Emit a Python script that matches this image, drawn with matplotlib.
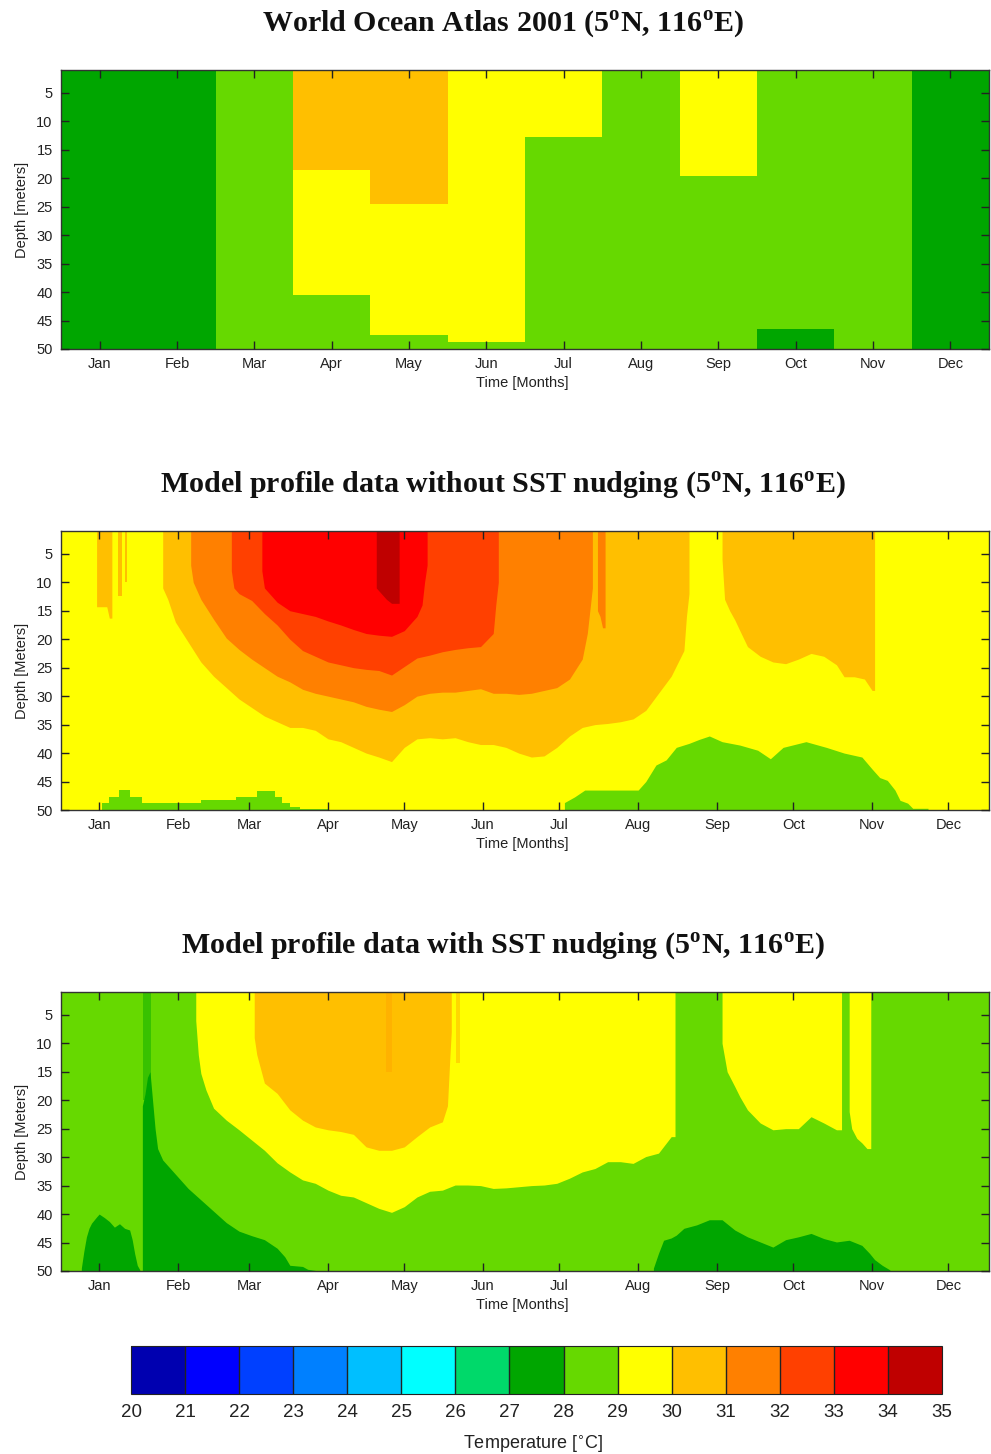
import numpy as np
import matplotlib
matplotlib.use("Agg")
import matplotlib.pyplot as plt
from matplotlib.colors import ListedColormap, BoundaryNorm
from matplotlib.cm import ScalarMappable

plt.rcParams['font.family'] = ['Liberation Sans', 'DejaVu Sans']
plt.rcParams['mathtext.fontset'] = 'custom'
plt.rcParams['mathtext.rm'] = 'Liberation Serif:bold'

W = 991
H = 1454

temp_levels = list(range(20, 36))
temp_colors = ['#0000b0', '#0000ff', '#0040ff', '#0080ff', '#00bfff', '#00ffff', '#00d96a', '#00a600',
               '#66d900', '#ffff00', '#ffbf00', '#ff8000', '#ff4000', '#ff0000', '#bf0000']

month_names = ['Jan', 'Feb', 'Mar', 'Apr', 'May', 'Jun', 'Jul', 'Aug', 'Sep', 'Oct', 'Nov', 'Dec']
month_numbers = [1, 2, 3, 4, 5, 6, 7, 8, 9, 10, 11, 12]
month_days = [15, 46, 74, 105, 135, 166, 196, 227, 258, 288, 319, 349]
depth_ticks = [5, 10, 15, 20, 25, 30, 35, 40, 45, 50]

# World Ocean Atlas, depth reached from the surface per month
woa_dark_depth = [50, 50, 0, 0, 0, 0, 0, 0, 0, 0, 0, 50]
woa_yellow_depth = [0, 0, 0, 40.5, 47.6, 48.8, 12.8, 0, 19.6, 0, 0, 0]
woa_amber_depth = [0, 0, 0, 18.6, 24.5, 0, 0, 0, 0, 0, 0, 0]
woa_dark_bottom = [50, 50, 50, 50, 50, 50, 50, 50, 50, 46.5, 50, 50]

# no nudging run, isotherm depth against day of year
nn_t30_days = [40, 42, 45, 50, 55, 60, 65, 70, 75, 80, 85, 90, 95, 100, 105, 110, 115, 120, 125, 130, 135, 140, 145,
               150, 155, 160, 165, 170, 175, 180, 185, 190, 195, 200, 205, 210, 215, 220, 225, 230, 235, 240, 245, 246,
               247]
nn_t30_depth = [11, 13, 17, 20.5, 24, 26.5, 28.5, 30.5, 32, 33.5, 34.5, 35.5, 35.5, 36, 37.5, 38, 39, 40, 40.7, 41.5,
                39, 37.5, 37.3, 37.5, 37.3, 38, 38.5, 38.5, 39, 40, 40.7, 40.5, 39, 37, 35.5, 35, 34.8, 34.5, 34, 32.5,
                29.5, 26.5, 22, 16, 12]
nn_t30b_days = [260, 261, 263, 265, 267, 270, 275, 280, 285, 290, 295, 300, 305, 308, 312, 316, 319, 320]
nn_t30b_depth = [6, 13, 15, 16.6, 18.5, 21.3, 23, 24, 24.3, 23.5, 22.5, 23, 24.5, 26.6, 26.6, 27, 29, 29]
nn_t30c_days = [14, 18, 19, 20]
nn_t30c_depth = [14.3, 14.3, 16.3, 16.3]
nn_t30d_days = [22.5, 24]
nn_t30d_depth = [12.5, 12.5]
nn_t30e_days = [25, 26]
nn_t30e_depth = [10, 10]

nn_t31_days = [51, 52, 55, 60, 65, 70, 75, 80, 85, 90, 95, 100, 105, 110, 115, 120, 125, 130, 135, 140, 145, 150, 155,
               160, 165, 170, 175, 180, 185, 190, 195, 200, 205, 207, 208, 209]
nn_t31_depth = [7, 10, 13, 16.5, 19.8, 21.8, 23.5, 25, 26.5, 27.5, 28.8, 29.5, 30, 30.5, 31, 31.8, 32.3, 32.7, 31.5, 30,
                29.5, 29.3, 29.3, 29, 28.7, 29.5, 29.5, 29.7, 29.5, 29, 28.5, 27, 23.5, 19, 15, 11]
nn_t31b_days = [211, 212, 213, 214]
nn_t31b_depth = [15, 16, 18, 18]

nn_t32_days = [67, 68, 70, 75, 80, 85, 90, 95, 100, 105, 110, 115, 120, 125, 130, 135, 140, 145, 150, 155, 160, 165,
               170, 171, 172]
nn_t32_depth = [8, 11, 12, 13.2, 15.5, 17.5, 20, 22, 23, 24, 24.5, 25, 25.3, 25.5, 26.3, 24.8, 23.3, 22.8, 22.2, 21.8,
                21.5, 21.3, 19, 14, 10]
nn_t33_days = [79, 80, 85, 90, 95, 100, 105, 110, 115, 120, 125, 130, 135, 140, 142, 143, 144]
nn_t33_depth = [8, 11, 13.5, 15, 15.5, 16, 16.8, 17.5, 18.3, 19, 19.3, 19.5, 18.5, 16, 14, 10, 7]
nn_t34_days = [124, 126, 128, 130, 132, 133]
nn_t34_depth = [11, 12, 13, 13.7, 13.7, 13.7]

nn_t28_days = [16, 19, 23, 27, 32, 55, 69, 77, 84, 87, 90, 94, 105]
nn_t28_depth = [48.8, 47.7, 46.5, 47.7, 48.7, 48.2, 47.7, 46.6, 47.7, 48.8, 49.5, 49.8, 49.8]
nn_t28b_days = [198, 202, 206, 227, 230, 234, 238, 242, 247, 251, 255, 260, 267, 274, 279, 284, 293, 301, 308, 315, 319,
                322, 325, 328, 330, 333, 335, 341]
nn_t28b_depth = [48.7, 47.7, 46.5, 46.5, 45, 42.1, 41.2, 39, 38.3, 37.6, 37, 38, 38.6, 39.5, 41, 39, 38, 39, 40, 40.7,
                 42.8, 44.3, 44.8, 46.5, 48.3, 48.8, 49.7, 49.7]

# nudged run
sn_t29_days = [53, 54, 55, 57, 60, 65, 70, 75, 80, 85, 90, 95, 100, 105, 110, 115, 120, 125, 130, 135, 140, 145, 150,
               155, 160, 165, 170, 175, 180, 185, 190, 195, 200, 205, 210, 215, 220, 225, 230, 235, 240, 241.5]
sn_t29_depth = [6, 12, 15.3, 18.2, 21.4, 23.5, 25.2, 27, 28.8, 31, 32.6, 34, 34.6, 35.8, 36.7, 37, 38, 39, 39.7, 38.7,
                37, 36, 35.8, 34.9, 34.9, 35, 35.5, 35.4, 35.2, 35, 34.9, 34.6, 33.7, 32.6, 32, 30.8, 30.8, 31.1, 29.9,
                29.3, 26.4, 26.4]
sn_t29b_days = [260, 261, 262, 265, 267, 270, 275, 280, 285, 290, 295, 300, 305, 307]
sn_t29b_depth = [10, 12.5, 15, 17.6, 19.4, 21.7, 24, 25.2, 25, 25, 22.9, 24, 25.2, 25.2]
sn_t29c_days = [310, 311, 313, 315, 317, 318.5]
sn_t29c_depth = [22, 25, 26.7, 27.5, 28.5, 28.5]
sn_t30_days = [76, 77, 80, 85, 90, 95, 100, 105, 110, 115, 120, 125, 130, 135, 140, 145, 150, 152, 153, 153.5]
sn_t30_depth = [9, 12, 17, 18.8, 21.7, 23.5, 24.7, 25.2, 25.5, 26, 28.2, 28.8, 28.8, 28.2, 26.4, 24.7, 23.8, 21, 12, 8]
sn_t27_days = [8, 9, 10, 11, 12, 14, 15, 17, 19, 21, 23, 25, 27, 28, 29, 30, 31]
sn_t27_depth = [49.5, 46.5, 44, 42.5, 41.6, 40.5, 40, 40.6, 41.3, 42.3, 41.7, 42.5, 42.8, 44.5, 47, 49, 49.8]
sn_t27b_days = [32, 33, 34, 35, 36, 37, 38, 40, 45, 50, 55, 60, 65, 70, 75, 80, 85, 88, 90, 95, 97, 100]
sn_t27b_depth = [21, 19, 16, 15, 20, 25, 28.5, 30.5, 33, 35.5, 37.5, 39.5, 41.5, 43, 43.8, 44.5, 46, 47.5, 49, 49.2,
                 49.7, 49.9]
sn_t27c_days = [233, 235, 237, 240, 242, 245, 250, 255, 260, 265, 270, 275, 280, 285, 290, 295, 300, 305, 310, 315, 318,
                320, 323, 326]
sn_t27c_depth = [49.5, 46.9, 44.6, 44.2, 43.7, 42.5, 41.9, 41, 41, 42.8, 44, 44.9, 45.8, 44.5, 44, 43.4, 44.3, 44.9,
                 44.6, 45.5, 46.9, 48, 49, 49.8]

cmap = ListedColormap(temp_colors)
norm = BoundaryNorm(temp_levels, cmap.N)


def from_top(ax, days, depth, temp, alpha=1):
    ax.fill_between(days, 0, depth, color=cmap(norm(temp)), linewidth=0, alpha=alpha)


def from_bottom(ax, days, depth, temp, step=None):
    ax.fill_between(days, depth, 51, step=step, color=cmap(norm(temp)), linewidth=0)


def setup_axes(top, xticks, ylabel, title, title_y):
    ax = fig.add_axes([61 / W, 1 - (top + 279) / H, 928 / W, 279 / H])
    ax.set_ylim(50, 1)
    ax.set_yticks(depth_ticks)
    ax.set_xticks(xticks)
    ax.set_xticklabels(month_names)
    ax.tick_params(direction='in', length=6, width=1, top=True, right=True, labelsize=10.5, colors='#222222', pad=6)
    ax.set_axisbelow(False)
    for s in ax.spines.values():
        s.set_linewidth(1)
        s.set_color('#333333')
    fig.text(22 / W, 1 - (top + 140) / H, ylabel, rotation=90, ha='center', va='center', fontsize=10.5, color='#222222')
    fig.text(522 / W, 1 - (top + 313) / H, 'Time [Months]', ha='center', va='center', fontsize=10.5, color='#222222')
    fig.text(503 / W, 1 - title_y / H, title + ' (5$^{\\mathrm{o}}$N, 116$^{\\mathrm{o}}$E)', ha='center', va='center',
             fontsize=21.6, family='Liberation Serif', weight='bold', color='#111111')
    return ax


fig = plt.figure(figsize=(W / 100, H / 100), dpi=100)

# top panel, monthly climatology
ax1 = setup_axes(70, month_numbers, 'Depth [meters]', 'World Ocean Atlas 2001', 24)
ax1.set_xlim(0.5, 12.5)
ax1.set_facecolor(temp_colors[8])
ax1.bar(month_numbers, woa_dark_depth, width=1, color=temp_colors[7], linewidth=0)
ax1.bar(month_numbers, woa_yellow_depth, width=1, color=temp_colors[9], linewidth=0)
ax1.bar(month_numbers, woa_amber_depth, width=1, color=temp_colors[10], linewidth=0)
ax1.bar(month_numbers, [50 - d for d in woa_dark_bottom], bottom=woa_dark_bottom, width=1, color=temp_colors[7],
        linewidth=0)

# middle panel
ax2 = setup_axes(531, month_days, 'Depth [Meters]', 'Model profile data without SST nudging', 485)
ax2.set_xlim(0, 365)
ax2.set_facecolor(temp_colors[9])
from_bottom(ax2, nn_t28_days, nn_t28_depth, 28.5, step='post')
from_bottom(ax2, nn_t28b_days, nn_t28b_depth, 28.5)
for d, z in [(nn_t30_days, nn_t30_depth), (nn_t30b_days, nn_t30b_depth), (nn_t30c_days, nn_t30c_depth),
             (nn_t30d_days, nn_t30d_depth), (nn_t30e_days, nn_t30e_depth)]:
    from_top(ax2, d, z, 30.5)
from_top(ax2, nn_t31_days, nn_t31_depth, 31.5)
from_top(ax2, nn_t31b_days, nn_t31b_depth, 31.5)
from_top(ax2, nn_t32_days, nn_t32_depth, 32.5)
from_top(ax2, nn_t33_days, nn_t33_depth, 33.5)
from_top(ax2, nn_t34_days, nn_t34_depth, 34.5)

# bottom panel
ax3 = setup_axes(992, month_days, 'Depth [Meters]', 'Model profile data with SST nudging', 946)
ax3.set_xlim(0, 365)
ax3.set_facecolor(temp_colors[8])
from_bottom(ax3, sn_t27_days, sn_t27_depth, 27.5)
from_bottom(ax3, sn_t27b_days, sn_t27b_depth, 27.5)
from_bottom(ax3, sn_t27c_days, sn_t27c_depth, 27.5)
from_top(ax3, [32.2, 35.3], [20, 20], 27.5, alpha=0.45)
from_top(ax3, sn_t29_days, sn_t29_depth, 29.5)
from_top(ax3, sn_t29b_days, sn_t29b_depth, 29.5)
from_top(ax3, sn_t29c_days, sn_t29c_depth, 29.5)
from_top(ax3, sn_t30_days, sn_t30_depth, 30.5)
from_top(ax3, [128, 130], [15, 15], 31.5, alpha=0.2)
from_top(ax3, [155.5, 156.8], [13.5, 13.5], 30.5, alpha=0.6)

# colour scale
cax = fig.add_axes([131 / W, 1 - 1394 / H, 811 / W, 48 / H])
cb = fig.colorbar(ScalarMappable(norm=norm, cmap=cmap), cax=cax, orientation='horizontal', ticks=temp_levels,
                  drawedges=True)
cb.dividers.set_color('#222222')
cb.dividers.set_linewidth(1)
cb.outline.set_edgecolor('#222222')
cb.ax.tick_params(length=0, labelsize=13.5, pad=7, colors='#222222')
fig.text(533 / W, 1 - 1444 / H, 'Temperature [$^{\\circ}$C]', ha='center', va='center', fontsize=13, color='#222222',
         math_fontfamily='dejavusans')

fig.savefig('out.png', dpi=100)
